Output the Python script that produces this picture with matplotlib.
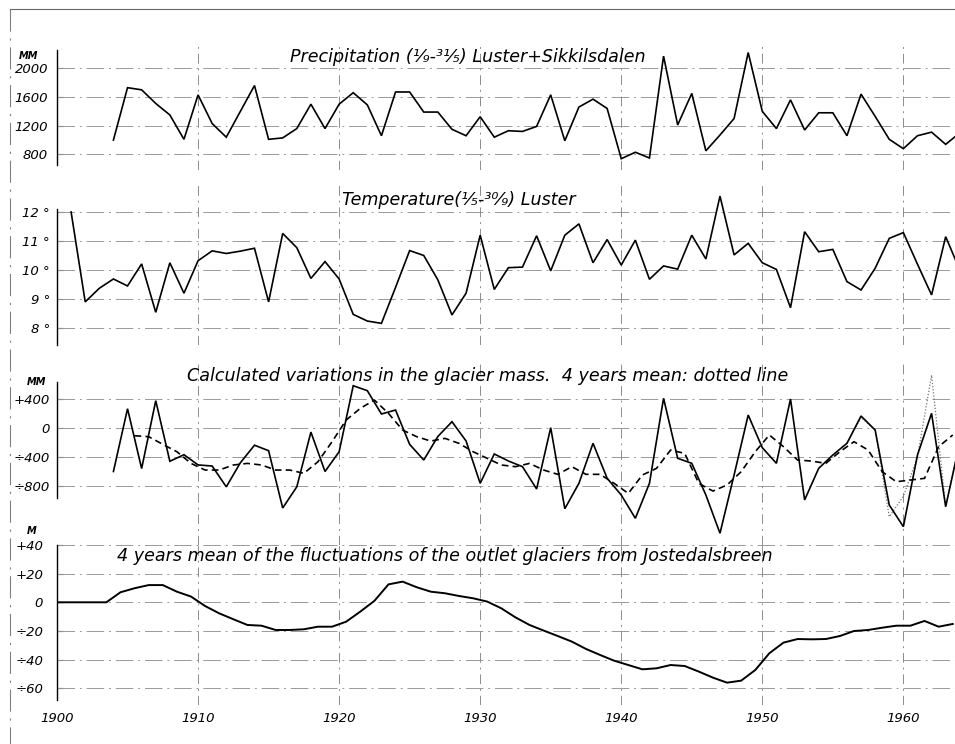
import matplotlib
matplotlib.use("Agg")
import matplotlib.pyplot as plt
from matplotlib.lines import Line2D
import numpy as np

# ---------------- data ----------------
precip_years = list(range(1904, 1965))
precip_mm = [1000, 1730, 1700, 1510, 1350, 1010, 1630, 1230, 1040, 1400,
             1760, 1010, 1030, 1160, 1500, 1160, 1500, 1660, 1490, 1060,
             1670, 1670, 1390, 1390, 1150, 1060, 1325, 1040, 1130, 1120,
             1190, 1630, 990, 1460, 1570, 1440, 740, 830, 750, 2170,
             1210, 1650, 850, 1070, 1300, 2220, 1400, 1160, 1560, 1140,
             1380, 1380, 1060, 1640, 1330, 1010, 880, 1060, 1110, 940, 1100]

temp_years = list(range(1901, 1965))
temp_c = [12.0, 8.9, 9.37, 9.69, 9.45, 10.21, 8.54, 10.25, 9.2, 10.32,
          10.66, 10.57, 10.65, 10.75, 8.9, 11.26, 10.77, 9.71, 10.29, 9.69,
          8.47, 8.24, 8.16, 9.4, 10.67, 10.5, 9.66, 8.45, 9.2, 11.2,
          9.33, 10.08, 10.1, 11.18, 9.97, 11.2, 11.59, 10.25, 11.05, 10.17,
          11.03, 9.68, 10.14, 10.03, 11.2, 10.38, 12.55, 10.52, 10.92, 10.25,
          10.02, 8.7, 11.32, 10.63, 10.71, 9.6, 9.31, 10.06, 11.09, 11.29,
          10.2, 9.14, 11.15, 10.0]

mass_years = list(range(1904, 1965))
mass_mm = [-600, 260, -560, 370, -460, -370, -510, -525, -810, -480,
           -240, -315, -1100, -810, -60, -600, -330, 575, 507, 188,
           242, -228, -443, -120, 82, -182, -762, -360, -456, -534,
           -840, 0, -1110, -762, -214, -693, -922, -1241, -762, 403,
           -419, -488, -922, -1446, -648, 174, -274, -488, 393, -990,
           -556, -374, -214, 160, -32, -1059, -1356, -374, 197, -1082, -200]

mean4_years = [y + 0.5 for y in range(1905, 1964)]
mean4_mm = [-110, -123, -228, -329, -489, -580, -580, -511, -489, -511,
            -580, -580, -625, -466, -192, 105, 265, 379, 196, -32,
            -123, -183, -146, -215, -329, -420, -511, -534, -489, -580,
            -639, -534, -639, -639, -763, -900, -648, -557, -306, -352,
            -763, -868, -785, -603, -329, -100, -260, -443, -457, -489,
            -329, -192, -306, -603, -740, -717, -694, -260, -100]

alt_years = list(range(1956, 1965))
alt_mm = [-214, 140, -30, -1220, -940, -400, 720, -1080, -200]

front_years = [1900, 1903.5] + [y + 0.5 for y in range(1904, 1964)]
front_m = [0, 0,
           7, 9.8, 12, 12, 7.4, 4, -2.6, -7.7, -11.8, -15.8,
           -16.3, -19.3, -19.3, -18.8, -17, -17, -13.5, -6.5, 1, 12.5,
           14.4, 10.5, 7.4, 6.3, 4.4, 2.8,
           0.5, -4.2, -10.5, -15.8, -19.7, -23.5, -27.4, -32.5, -36.7, -40.7,
           -43.7, -46.7, -46, -43.7, -44.4, -48.3, -52.5, -56, -54.6, -47.2,
           -35.5, -28.1, -25.6, -25.8, -25.6, -23.5, -20, -19.3, -17.7, -16.3,
           -16.3, -13, -17, -15.1]

decades = [1910, 1920, 1930, 1940, 1950, 1960]
x_labels = ["1900", "1910", "1920", "1930", "1940", "1950", "1960"]

p_ticks = [800, 1200, 1600, 2000]
p_labels = ["800", "1200", "1600", "2000"]
t_ticks = [8, 9, 10, 11, 12]
t_labels = ["8 °", "9 °", "10 °", "11 °", "12 °"]
m_ticks = [-800, -400, 0, 400]
m_labels = ["÷800", "÷400", "0", "+400"]
f_ticks = [-60, -40, -20, 0, 20, 40]
f_labels = ["÷60", "÷40", "÷20", "0", "+20", "+40"]

titles = ["Precipitation (¹⁄₉-³¹⁄₅) Luster+Sikkilsdalen",
          "Temperature(¹⁄₅-³⁰⁄₉) Luster",
          "Calculated variations in the glacier mass.  4 years mean: dotted line",
          "4 years mean of the fluctuations of the outlet glaciers from Jostedalsbreen"]

# ---------------- layout ----------------
W, H = 955, 744
fig = plt.figure(figsize=(W / 100, H / 100), dpi=100)
fig.patch.set_facecolor("white")

X0 = 57.0
XMAX = 1900 + (W - X0) / 14.106


def add_panel(top, bottom):
    return fig.add_axes([X0 / W, 1 - bottom / H, (W - X0) / W, (bottom - top) / H])


def fx(x):
    return x / W


def fy(y):
    return 1 - y / H


grid_kw = dict(color="0.6", lw=0.7, dashes=(18, 5, 2, 5))
vgrid_kw = dict(color="0.55", lw=0.7, dashes=(10, 5, 2, 5))
tick_font = dict(style="italic", size=9.5)

panels = []
specs = [
    (45, 170, (1200 - (170 - 125.7) / 0.07175, 1200 + (125.7 - 45) / 0.07175),
     p_ticks, p_labels, 6.5, (650, 2250)),
    (185, 345, (10 - (345 - 270) / 29.0, 10 + (270 - 185) / 29.0),
     t_ticks, t_labels, 5.0, (7.4, 12.1)),
    (362, 545, (-(545 - 427.7) / 0.073, (427.7 - 362) / 0.073),
     m_ticks, m_labels, 5.0, (-960, 620)),
    (535, 705, (-(705 - 602.3) / 1.435, (602.3 - 535) / 1.435),
     f_ticks, f_labels, 10.0, (-68, 40)),
]

for top, bottom, ylim, ticks, labels, pad, sb in specs:
    ax = add_panel(top, bottom)
    ax.set_facecolor("none")
    ax.set_xlim(1900, XMAX)
    ax.set_ylim(*ylim)
    for s in ["top", "right", "bottom"]:
        ax.spines[s].set_visible(False)
    ax.spines["left"].set_bounds(*sb)
    ax.spines["left"].set_linewidth(1.0)
    ax.set_yticks(ticks)
    ax.set_yticklabels(labels, **tick_font)
    ax.tick_params(axis="y", length=4, width=0.8, pad=pad, direction="in")
    ax.set_xticks([])
    for t in ticks:
        ax.axhline(t, **grid_kw)
    for d in decades:
        ax.axvline(d, **vgrid_kw)
    panels.append(ax)

ax1, ax2, ax3, ax4 = panels

ax1.plot(precip_years, precip_mm, color="black", lw=1.2, solid_joinstyle="miter")
ax2.plot(temp_years, temp_c, color="black", lw=1.2, solid_joinstyle="miter")
ax3.plot(alt_years, alt_mm, color="0.45", lw=0.9, ls=(0, (1, 1.5)))
ax3.plot(mass_years, mass_mm, color="black", lw=1.2, solid_joinstyle="miter")
ax3.plot(mean4_years, mean4_mm, color="black", lw=1.2, ls=(0, (4, 2.5)))
ax4.plot(front_years, front_m, color="black", lw=1.4)

ax4.set_xticks([1900] + decades)
ax4.set_xticklabels(x_labels, **tick_font)
ax4.tick_params(axis="x", length=0, pad=5)

# titles
title_kw = dict(style="italic", size=12.6, color="black", va="center", ha="left")
fig.text(fx(290), fy(57), titles[0], **title_kw)
fig.text(fx(342), fy(200), titles[1], **title_kw)
fig.text(fx(187), fy(376), titles[2], **title_kw)
fig.text(fx(117), fy(556), titles[3], **title_kw)

# unit labels
unit_kw = dict(style="italic", size=7, color="black", va="center", ha="center", weight="bold")
fig.text(fx(29), fy(56), "MM", **unit_kw)
fig.text(fx(37), fy(382), "MM", **unit_kw)
fig.text(fx(32), fy(531), "M", **unit_kw)

# page frame lines from the scan
fig.add_artist(Line2D([fx(10), fx(955)], [fy(9), fy(9)], color="0.4", lw=0.8,
                      transform=fig.transFigure))
fig.add_artist(Line2D([fx(10), fx(10)], [fy(9), fy(744)], color="0.5", lw=0.8,
                      dashes=(20, 6, 2, 6), transform=fig.transFigure))

fig.savefig("out.png", dpi=100, facecolor="white")
